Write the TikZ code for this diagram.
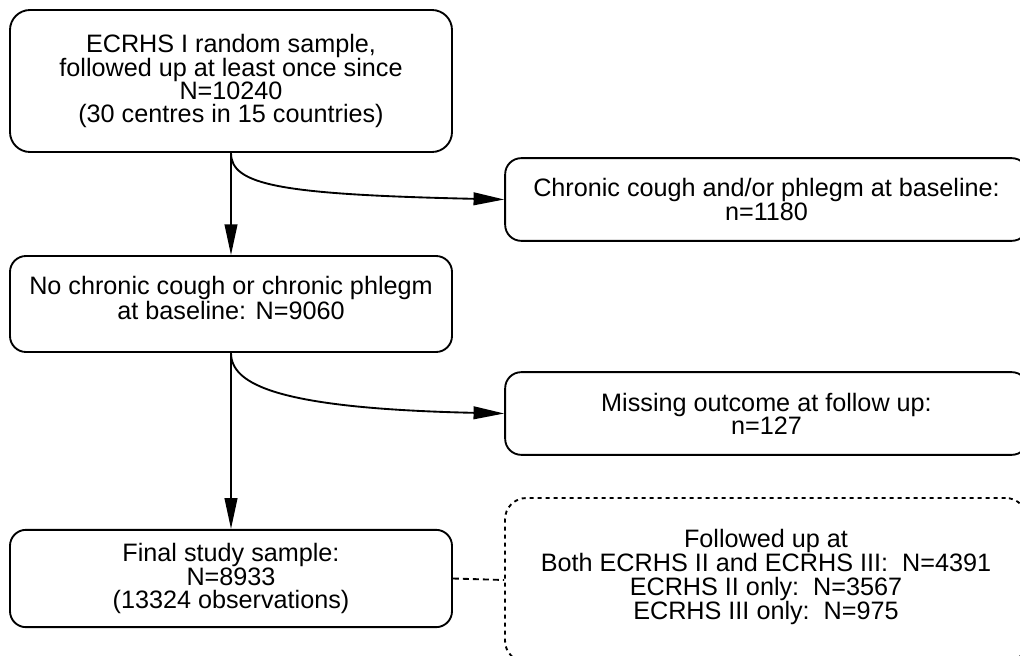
\documentclass[tikz,border=0pt]{standalone}
\usepackage{fontspec}
\setmainfont{Liberation Sans}
\usetikzlibrary{arrows.meta}

\begin{document}
\begin{tikzpicture}[x=0.75pt,y=-0.75pt,
    box/.style={draw,line width=1.4pt,rounded corners=12pt,align=center,inner sep=0pt,
      font=\fontsize{18.9}{17.3}\selectfont},
    mainbox/.style={box,minimum width=331.5pt},
    sidebox/.style={box,minimum width=392pt,minimum height=62pt},
    notebox/.style={box,rounded corners=16pt,dash pattern=on 3pt off 3pt,
      minimum width=391.5pt,minimum height=123pt},
    flow/.style={line width=1.4pt,-{Triangle[length=23pt,width=9.5pt]}}]
    % --------------------------
    % the page, clipped as shown
    % --------------------------
    \useasboundingbox (0,0) rectangle (1020,656);
    % ------------------------
    % the main line of samples
    % ------------------------
    \node[mainbox,rounded corners=15pt,minimum height=106.5pt] (sample) at (231,81)
      {ECRHS I random sample,\\followed up at least once since\\N=10240\\(30 centres in 15 countries)};
    \node[mainbox,minimum height=72pt,text depth=9pt] (nocough) at (231,304)
      {No chronic cough or chronic phlegm\\ at baseline: N=9060};
    \node[mainbox,minimum height=73pt] (final) at (231,578.5)
      {Final study sample:\\N=8933\\(13324 observations)};
    % ---------------------------
    % the exclusions on the right
    % ---------------------------
    \node[sidebox] (cough) at (766.5,199.5) {Chronic cough and/or phlegm at baseline:\\n=1180};
    \node[sidebox] (missing) at (766.5,413.5) {Missing outcome at follow up:\\n=127};
    \node[notebox,text depth=8.5pt] (followed) at (766,580)
      {Followed up at\\Both ECRHS II and ECRHS III:\ \ N=4391\\ECRHS II only:\ \ N=3567\\ECRHS III only:\ \ N=975};
    % ----------
    % connectors
    % ----------
    \foreach \from/\to/\side in {sample/nocough/cough,nocough/final/missing}{
      \draw[flow] (\from.south) -- (\to.north);
      \draw[flow] (\from.south) .. controls +(0,32) and +(-225,-5) .. (\side.west);
    }
    \draw[line width=1.4pt,dash pattern=on 4.5pt off 3pt] (final.east) -- (followed.west);
\end{tikzpicture}
\end{document}
